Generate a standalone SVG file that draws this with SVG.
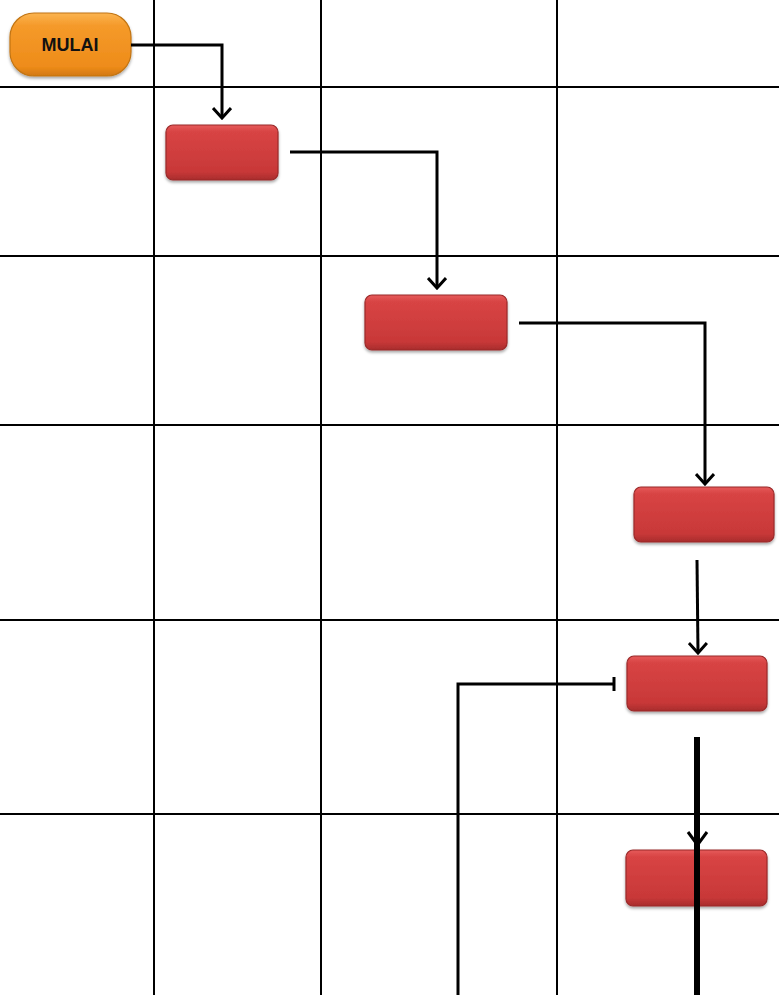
<svg xmlns="http://www.w3.org/2000/svg" width="779" height="995" viewBox="0 0 779 995">
<style>
.grid{stroke:#000;stroke-width:2;fill:none}
.conn{stroke:#000;stroke-width:3;fill:none}
.thick{stroke:#000;stroke-width:6;fill:none}
.box{fill:url(#red);stroke:#9a2a2a;stroke-width:1.2;filter:url(#sh)}
.start{fill:url(#orange);stroke:#c27412;stroke-width:1.2;filter:url(#sh)}
.lbl{font-family:"Liberation Sans",Arial,sans-serif;font-weight:bold;font-size:18px;fill:#111;text-anchor:middle}
</style>
<defs>
<linearGradient id="red" x1="0" y1="0" x2="0" y2="1">
<stop offset="0" stop-color="#e65a5a"/>
<stop offset="0.12" stop-color="#d84444"/>
<stop offset="0.85" stop-color="#c83838"/>
<stop offset="1" stop-color="#a82c2c"/>
</linearGradient>
<linearGradient id="orange" x1="0" y1="0" x2="0" y2="1">
<stop offset="0" stop-color="#fbb450"/>
<stop offset="0.2" stop-color="#f59a2a"/>
<stop offset="0.85" stop-color="#ee8c1a"/>
<stop offset="1" stop-color="#d27810"/>
</linearGradient>
<filter id="sh" x="-10%" y="-20%" width="120%" height="150%">
<feDropShadow dx="0" dy="2" stdDeviation="1.5" flood-color="#000" flood-opacity="0.35"/>
</filter>
<marker id="arr" viewBox="0 0 14 20" refX="12" refY="10" markerWidth="14" markerHeight="20" markerUnits="userSpaceOnUse" orient="auto">
<path d="M2,1 L12,10 L2,19" fill="none" stroke="#000" stroke-width="3"/>
</marker>
</defs>
<rect width="779" height="995" fill="#fff"/>
<g id="grid">
<line class="grid" x1="154" y1="0" x2="154" y2="995"/>
<line class="grid" x1="321" y1="0" x2="321" y2="995"/>
<line class="grid" x1="557" y1="0" x2="557" y2="995"/>
<line class="grid" x1="0" y1="87" x2="779" y2="87"/>
<line class="grid" x1="0" y1="256" x2="779" y2="256"/>
<line class="grid" x1="0" y1="425" x2="779" y2="425"/>
<line class="grid" x1="0" y1="620" x2="779" y2="620"/>
<line class="grid" x1="0" y1="814" x2="779" y2="814"/>
</g>
<g id="mulai">
<rect class="start" x="10" y="13" width="121" height="63" rx="24"/>
<text class="lbl" x="70" y="51">MULAI</text>
</g>
<g id="box1"><rect class="box" x="166" y="125" width="112" height="55" rx="7"/></g>
<g id="box2"><rect class="box" x="365" y="295" width="142" height="55" rx="7"/></g>
<g id="box3"><rect class="box" x="634" y="487" width="140" height="55" rx="7"/></g>
<g id="box4"><rect class="box" x="627" y="656" width="140" height="55" rx="7"/></g>
<g id="box5"><rect class="box" x="626" y="850" width="141" height="56" rx="7"/></g>
<g id="connectors">
<path class="conn" d="M131,45 H222 V118" marker-end="url(#arr)"/>
<path class="conn" d="M290,152 H437 V288" marker-end="url(#arr)"/>
<path class="conn" d="M519,323 H705 V484" marker-end="url(#arr)"/>
<path class="conn" d="M697,560 L698,653" marker-end="url(#arr)"/>
<path class="conn" d="M458,995 V684 H614"/>
<path class="conn" d="M614,677 V691" stroke-width="2"/>
<path class="conn" d="M688,832 L697.5,845 L707,832"/>
<path class="thick" d="M697,737 V995"/>
</g>
</svg>
